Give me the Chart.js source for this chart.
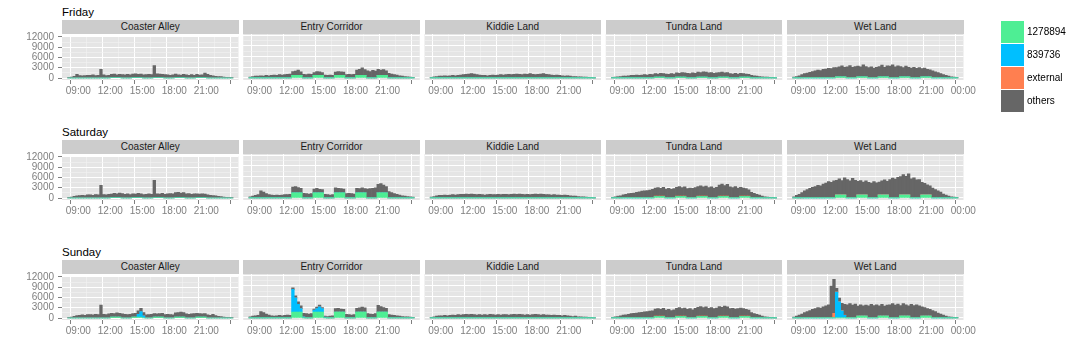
<!DOCTYPE html>
<html><head><meta charset="utf-8">
<script src="https://cdn.jsdelivr.net/npm/chart.js@4.4.1/dist/chart.umd.min.js"></script>
<style>
html,body{margin:0;padding:0;background:#fff;}
body{width:1080px;height:360px;position:relative;overflow:hidden;font-family:"Liberation Sans",Arial,sans-serif;}
.rowtitle{position:absolute;font-size:11.5px;color:#000;line-height:13px;white-space:nowrap;}
.strip{position:absolute;background:#CCCCCC;color:#1A1A1A;font-size:10px;text-align:center;line-height:14px;height:14px;white-space:nowrap;}
canvas.cv{position:absolute;}
.lkey{position:absolute;width:23px;}
.llab{position:absolute;font-size:10px;color:#000;line-height:12px;white-space:nowrap;}
</style></head><body>
<script>
// ---------- categories / labels ----------
const days = ["Friday","Saturday","Sunday"];
const zones = ["Coaster Alley","Entry Corridor","Kiddie Land","Tundra Land","Wet Land"];
const seriesNames = ["1278894","839736","external","others"];
const times = ["08:00","08:15","08:30","08:45","09:00","09:15","09:30","09:45","10:00","10:15","10:30","10:45",
 "11:00","11:15","11:30","11:45","12:00","12:15","12:30","12:45","13:00","13:15","13:30","13:45",
 "14:00","14:15","14:30","14:45","15:00","15:15","15:30","15:45","16:00","16:15","16:30","16:45",
 "17:00","17:15","17:30","17:45","18:00","18:15","18:30","18:45","19:00","19:15","19:30","19:45",
 "20:00","20:15","20:30","20:45","21:00","21:15","21:30","21:45","22:00","22:15","22:30","22:45",
 "23:00","23:15"];
const xMajorHours = [9,12,15,18,21,24];
const xTickLabels = ["09:00","12:00","15:00","18:00","21:00","00:00"];
const xMinorHours = [10.5,13.5,16.5,19.5,22.5];
const yTickValues = [0,3000,6000,9000,12000];
const yMinorValues = [1500,4500,7500,10500];

// ---------- Friday ----------
const fri_coaster_others = [100,300,500,1100, 700,600,700,800, 800,900,700,800, 2500,900,700,800, 900,1000,800,900, 1000,900,1100,900, 1000,1100,900,1000, 900,1000,1100,1000, 3500,1100,1000,900, 1000,900,800,900, 1000,800,700,900, 900,800,1000,800, 900,700,800,1300, 1100,800,600,500, 400,400,300,200, 100,100];
const fri_coaster_green = [0,0,0,0, 0,0,0,0, 0,0,0,0, 0,0,0,0, 150,150,150,150, 0,0,0,0, 150,150,150,150, 0,0,0,0, 150,150,150,150, 0,0,0,0, 150,150,150,150, 0,0,0,0, 150,150,150,150, 0,0,0,0, 0,0,0,0, 0,0];
const fri_entry_others = [200,400,500,500, 600,500,700,600, 700,800,700,900, 800,900,1000,1100, 1100,1200,1500,1000, 1000,900,1100,1000, 800,1100,1000,800, 800,700,800,700, 900,1100,1000,900, 900,1000,900,1000, 1500,1700,2100,1600, 2000,1800,2100,1900, 1700,1500,1600,1300, 1300,1100,900,800, 600,500,400,300, 200,100];
const fri_entry_green = [0,0,0,0, 0,0,0,0, 0,0,0,0, 0,0,0,0, 700,700,700,700, 0,0,0,0, 700,700,700,700, 0,0,0,0, 700,700,700,700, 0,0,0,0, 700,700,700,700, 0,0,0,0, 700,700,700,700, 0,0,0,0, 0,0,0,0, 0,0];
const fri_kiddie_others = [100,300,400,500, 500,600,500,600, 700,600,700,800, 900,1000,1100,1200, 1100,900,800,700, 700,600,700,800, 700,800,900,800, 900,1000,900,1000, 1100,1000,900,1100, 1000,1200,1000,900, 1000,1100,1200,1000, 900,800,700,800, 700,600,500,600, 500,400,400,300, 300,200,200,100, 100,0];
const fri_tundra_others = [100,200,300,400, 500,500,600,700, 700,800,700,800, 900,800,1000,900, 1000,900,1100,1000, 1100,1000,1200,1100, 1200,1100,1300,1200, 1300,1200,1400,1300, 1400,1300,1500,1400, 1400,1500,1300,1400, 1300,1400,1200,1300, 1200,1100,1300,1100, 1100,1000,900,800, 700,600,500,400, 300,200,200,100, 100,0];
const fri_tundra_green = [0,0,0,0, 0,0,0,0, 0,0,0,0, 0,0,0,0, 200,200,200,200, 0,0,0,0, 200,200,200,200, 0,0,0,0, 200,200,200,200, 0,0,0,0, 200,200,200,200, 0,0,0,0, 200,200,200,200, 0,0,0,0, 0,0,0,0, 0,0];
const fri_wet_others = [200,400,600,900, 1100,1300,1500,1700, 1900,2100,2000,2300, 2400,2600,2500,2800, 2500,2700,3000,2600, 3000,3400,2900,3100, 2900,2700,3300,2800, 2800,3000,2700,2900, 2800,3200,2600,3000, 3200,3600,3000,3300, 2800,2500,2900,2600, 2700,2900,2600,2800, 2200,2400,2000,1900, 1900,1600,1400,1100, 900,700,500,300, 200,100];
const fri_wet_green = [0,0,0,0, 0,0,0,0, 0,0,0,0, 0,0,0,0, 300,300,300,300, 0,0,0,0, 300,300,300,300, 0,0,0,0, 300,300,300,300, 0,0,0,0, 300,300,300,300, 0,0,0,0, 300,300,300,300, 0,0,0,0, 0,0,0,0, 0,0];
const fri_wet_external = [0,0,0,0, 80,80,80,80, 80,80,80,80, 80,80,80,80, 80,80,80,80, 80,80,80,80, 80,80,80,80, 80,80,80,80, 80,80,80,80, 80,80,80,80, 80,80,80,80, 80,80,80,80, 80,80,80,80, 80,80,80,80, 0,0,0,0, 0,0];

// ---------- Saturday ----------
const sat_coaster_others = [100,300,500,600, 700,800,700,900, 900,800,1000,900, 3700,1000,900,1100, 1000,1200,1100,1300, 1300,1100,1200,1000, 1100,1000,1200,1100, 1000,1100,1200,1100, 5000,1100,1000,1200, 1100,1200,1300,1200, 1400,1500,1300,1400, 1200,1300,1100,1200, 1100,1000,1100,1000, 900,800,700,600, 500,400,300,200, 100,100];
const sat_coaster_green = [0,0,0,0, 0,0,0,0, 0,0,0,0, 0,0,0,0, 150,150,150,150, 0,0,0,0, 150,150,150,150, 0,0,0,0, 150,150,150,150, 0,0,0,0, 150,150,150,150, 0,0,0,0, 150,150,150,150, 0,0,0,0, 0,0,0,0, 0,0];
const sat_entry_others = [300,500,700,900, 2000,1600,1200,900, 800,700,800,700, 800,900,900,1000, 1600,1800,1500,1300, 1300,1200,1100,1200, 1100,1300,1000,900, 1000,900,800,900, 1400,1300,1200,1100, 1200,1300,1200,1100, 1300,1200,1400,1200, 2500,2600,2700,2800, 2400,2600,2200,1800, 1800,1500,1200,1000, 800,600,500,400, 300,200];
const sat_entry_green = [0,0,0,0, 0,0,0,0, 0,0,0,0, 0,0,0,0, 1400,1400,1400,1400, 0,0,0,0, 1400,1400,1400,1400, 0,0,0,0, 1400,1400,1400,1400, 0,0,0,0, 1400,1400,1400,1400, 0,0,0,0, 1400,1400,1400,1400, 0,0,0,0, 0,0,0,0, 0,0];
const sat_kiddie_others = [200,400,600,700, 700,800,700,800, 900,800,900,1000, 1000,1100,1000,1100, 1000,900,1000,900, 800,900,1000,900, 900,1000,900,1000, 1000,900,1000,1100, 1000,1100,1000,900, 1000,900,1000,1100, 1000,1100,1000,900, 900,800,900,800, 800,700,800,700, 600,500,500,400, 300,300,200,100, 100,0];
const sat_tundra_others = [100,300,500,600, 800,900,1100,1200, 1300,1500,1600,1800, 1900,2000,2100,2300, 2300,2400,2200,2500, 2400,2600,2300,2500, 2500,2700,2400,2600, 2500,2700,2600,2800, 2700,2900,2600,2800, 2800,3000,2700,2900, 3100,3400,3000,3300, 3000,2800,3100,2700, 2500,2300,2100,1800, 1500,1200,900,700, 500,300,200,100, 50,0];
const sat_tundra_green = [0,0,0,0, 0,0,0,0, 0,0,0,0, 0,0,0,0, 400,400,400,400, 0,0,0,0, 400,400,400,400, 0,0,0,0, 400,400,400,400, 0,0,0,0, 400,400,400,400, 0,0,0,0, 400,400,400,400, 0,0,0,0, 0,0,0,0, 0,0];
const sat_tundra_external = [0,0,0,0, 80,80,80,80, 80,80,80,80, 80,80,80,80, 80,80,80,80, 80,80,80,80, 80,80,80,80, 80,80,80,80, 80,80,80,80, 80,80,80,80, 80,80,80,80, 80,80,80,80, 80,80,80,80, 80,80,80,80, 0,0,0,0, 0,0];
const sat_wet_others = [300,700,1000,1500, 1800,2200,2500,2800, 3000,3400,3200,3700, 4000,4400,4200,4600, 4000,4400,3900,4700, 5000,4600,5300,4800, 3700,3900,3500,3800, 4200,4000,4400,4100, 3500,3800,4100,3700, 5000,5400,5100,5600, 5000,5600,5100,5800, 5200,5500,4900,5000, 3400,3100,2700,2400, 2600,2200,1800,1500, 1100,800,500,300, 200,100];
const sat_wet_green = [0,0,0,0, 0,0,0,0, 0,0,0,0, 0,0,0,0, 800,800,800,800, 0,0,0,0, 800,800,800,800, 0,0,0,0, 800,800,800,800, 0,0,0,0, 800,800,800,800, 0,0,0,0, 800,800,800,800, 0,0,0,0, 0,0,0,0, 0,0];
const sat_wet_external = [0,0,0,0, 150,150,150,150, 150,150,150,150, 150,150,150,150, 150,150,150,150, 150,150,150,150, 150,150,150,150, 150,150,150,150, 150,150,150,150, 150,150,150,150, 150,150,150,150, 150,150,150,150, 150,150,150,150, 150,150,150,150, 0,0,0,0, 0,0];

// ---------- Sunday ----------
const sun_coaster_others = [100,300,500,700, 800,900,800,1000, 1000,900,1100,1000, 3800,1100,1000,1200, 1100,1000,1200,1100, 1200,1100,1000,1100, 1000,1100,1000,900, 1000,900,1000,1100, 1000,900,1000,1100, 1000,1100,1000,900, 1200,1300,1400,1300, 1200,1100,1200,1300, 1100,1000,900,1000, 900,800,1100,700, 500,400,300,200, 100,100];
const sun_coaster_green = [0,0,0,0, 0,0,0,0, 0,0,0,0, 0,0,0,0, 300,300,300,300, 0,0,0,0, 300,300,300,300, 0,0,0,0, 300,300,300,300, 0,0,0,0, 300,300,300,300, 0,0,0,0, 300,300,300,300, 0,0,0,0, 0,0,0,0, 0,0];
const sun_coaster_blue = [0,0,0,0, 0,0,0,0, 0,0,0,0, 0,0,0,0, 0,0,0,0, 0,0,0,0, 0,0,800,1600, 600,0,0,0, 0,0,0,0, 0,0,0,0, 0,0,0,0, 0,0,0,0, 0,0,0,0, 0,0,0,0, 0,0,0,0, 0,0];
const sun_entry_others = [300,500,600,700, 1800,1500,1100,800, 600,500,600,700, 600,700,800,700, 400,600,700,800, 1000,1200,1100,1200, 300,400,500,300, 300,400,500,600, 1000,1100,900,800, 1000,900,800,900, 1100,1200,1400,1200, 1200,1100,1000,1200, 1900,1600,1300,1100, 900,800,700,600, 500,400,300,300, 200,100];
const sun_entry_green = [0,0,0,0, 0,0,0,0, 0,0,0,0, 0,0,0,0, 1600,1600,1600,1600, 0,0,0,0, 1600,1600,1600,1600, 0,0,0,0, 1600,1600,1600,1600, 0,0,0,0, 1600,1600,1600,1600, 0,0,0,0, 1600,1600,1600,1600, 0,0,0,0, 0,0,0,0, 0,0];
const sun_entry_blue = [0,0,0,0, 0,0,0,0, 0,0,0,0, 0,0,0,0, 6400,4000,2200,1000, 300,0,0,0, 600,1000,1500,1000, 200,0,0,0, 0,0,0,0, 0,0,0,0, 0,0,0,0, 0,0,0,0, 0,0,0,0, 0,0,0,0, 0,0,0,0, 0,0];
const sun_kiddie_others = [100,300,500,600, 600,700,600,700, 800,700,900,800, 900,1000,900,1000, 900,800,900,800, 900,800,1000,900, 800,900,800,900, 900,800,900,1000, 900,1000,900,800, 900,800,900,1000, 900,800,900,800, 800,700,800,700, 700,600,700,600, 500,400,500,300, 300,200,200,100, 100,0];
const sun_tundra_others = [100,300,400,600, 700,800,900,1100, 1200,1300,1400,1500, 1600,1700,1800,1900, 2000,2100,1900,2200, 2100,2300,2000,2200, 2200,2400,2100,2300, 2300,2500,2200,2600, 2500,2700,2400,2600, 2600,2800,2500,2700, 2700,2500,2800,2600, 2500,2600,2400,2500, 2300,2100,1900,1700, 1400,1100,900,700, 500,300,200,100, 50,0];
const sun_tundra_green = [0,0,0,0, 0,0,0,0, 0,0,0,0, 0,0,0,0, 400,400,400,400, 0,0,0,0, 400,400,400,400, 0,0,0,0, 400,400,400,400, 0,0,0,0, 400,400,400,400, 0,0,0,0, 400,400,400,400, 0,0,0,0, 0,0,0,0, 0,0];
const sun_tundra_external = [0,0,0,0, 80,80,80,80, 80,80,80,80, 80,80,80,80, 80,80,80,80, 80,80,80,80, 80,80,80,80, 80,80,80,80, 80,80,80,80, 80,80,80,80, 80,80,80,80, 80,80,80,80, 80,80,80,80, 80,80,80,80, 0,0,0,0, 0,0];
const sun_wet_others = [200,500,800,1100, 1400,1700,2000,2300, 2500,2800,2700,3000, 3300,3600,8800,9500, 1000,1000,2000,3000, 3600,3900,3500,3800, 2700,3100,2800,3000, 3300,3700,3400,3600, 2800,3200,2700,3000, 3600,3900,3500,3800, 2900,3400,3100,2800, 3700,3400,3600,3300, 2500,2300,2000,1800, 2000,1700,1300,1000, 800,500,300,200, 100,50];
const sun_wet_green = [0,0,0,0, 0,0,0,0, 0,0,0,0, 0,0,0,0, 0,0,0,0, 0,0,0,0, 500,500,500,500, 0,0,0,0, 500,500,500,500, 0,0,0,0, 500,500,500,500, 0,0,0,0, 500,500,500,500, 0,0,0,0, 0,0,0,0, 0,0];
const sun_wet_blue = [0,0,0,0, 0,0,0,0, 0,0,0,0, 0,0,0,0, 7200,4500,2000,700, 0,0,0,0, 0,0,0,0, 0,0,0,0, 0,0,0,0, 0,0,0,0, 0,0,0,0, 0,0,0,0, 0,0,0,0, 0,0,0,0, 0,0,0,0, 0,0];
const sun_wet_external = [0,0,0,0, 80,80,80,80, 80,80,80,80, 80,80,80,1300, 80,80,80,80, 80,80,80,80, 80,80,80,80, 80,80,80,80, 80,80,80,80, 80,80,80,80, 80,80,80,80, 80,80,80,80, 80,80,80,80, 80,80,80,80, 0,0,0,0, 0,0];

// ---------- panel table (built from the arrays) ----------
const panels = [
 [ {green:fri_coaster_green, others:fri_coaster_others},
   {green:fri_entry_green, others:fri_entry_others},
   {others:fri_kiddie_others},
   {green:fri_tundra_green, others:fri_tundra_others},
   {green:fri_wet_green, external:fri_wet_external, others:fri_wet_others} ],
 [ {green:sat_coaster_green, others:sat_coaster_others},
   {green:sat_entry_green, others:sat_entry_others},
   {others:sat_kiddie_others},
   {green:sat_tundra_green, external:sat_tundra_external, others:sat_tundra_others},
   {green:sat_wet_green, external:sat_wet_external, others:sat_wet_others} ],
 [ {green:sun_coaster_green, blue:sun_coaster_blue, others:sun_coaster_others},
   {green:sun_entry_green, blue:sun_entry_blue, others:sun_entry_others},
   {others:sun_kiddie_others},
   {green:sun_tundra_green, external:sun_tundra_external, others:sun_tundra_others},
   {green:sun_wet_green, blue:sun_wet_blue, external:sun_wet_external, others:sun_wet_others} ]
];

// ---------- styling / layout ----------
const COLORS = {green:"#4EEE94", blue:"#00BFFF", external:"#FF7F50", others:"#666666"};
const FONT = "'Liberation Sans', Arial, Helvetica, sans-serif";
Chart.defaults.font.family = FONT;
const X_MIN = 7.47, X_MAX = 24.02;
const Y_MIN = -585, Y_MAX = 12285;
const PANEL_L0 = 62, PANEL_STEP = 181.25, PANEL_W = 176.5;
const PANEL_T0 = 34, ROW_STEP = 120, PANEL_H = 46, STRIP_H = 14;
const PT = 8, PR = 20, XH = 20, PB = 2, PL = 16;

const panelBg = {
  id: 'panelBg',
  beforeDraw(chart) {
    const a = chart.chartArea, c = chart.ctx;
    c.save(); c.fillStyle = '#E5E5E5';
    c.fillRect(a.left, a.top, a.right - a.left, a.bottom - a.top);
    c.restore();
  }
};

function toHour(s){ const p = s.split(':'); return +p[0] + (+p[1])/60; }
const xCenters = times.map(t => toHour(t) + 0.125);

function add(el){ document.body.appendChild(el); return el; }

days.forEach((day, r) => {
  const top = PANEL_T0 + r*ROW_STEP;
  const t = add(document.createElement('div'));
  t.className = 'rowtitle'; t.textContent = day;
  t.style.left = PANEL_L0 + 'px'; t.style.top = (top - STRIP_H - 14) + 'px';

  zones.forEach((zone, c) => {
    const left = PANEL_L0 + c*PANEL_STEP;
    const s = add(document.createElement('div'));
    s.className = 'strip'; s.textContent = zone;
    s.style.left = left + 'px'; s.style.top = (top - STRIP_H) + 'px'; s.style.width = PANEL_W + 'px';

    const p = panels[r][c];
    const cvLeft = c === 0 ? 0 : Math.floor(left) - PL;
    const padLeft = c === 0 ? 0 : left - cvLeft;
    const yW = c === 0 ? left : 0;
    const cvTop = top - PT;
    const w = Math.ceil(left + PANEL_W + PR - cvLeft);
    const h = PT + PANEL_H + XH + PB;
    const cv = add(document.createElement('canvas'));
    cv.className = 'cv'; cv.width = w; cv.height = h;
    cv.style.left = cvLeft + 'px'; cv.style.top = cvTop + 'px';
    cv.style.width = w + 'px'; cv.style.height = h + 'px';

    const keys = ['green','blue','external','others'];
    const datasets = keys.map((k, i) => ({
      label: seriesNames[i],
      data: xCenters.map((x, j) => ({x: x, y: p[k] ? p[k][j] : 0})),
      backgroundColor: COLORS[k],
      borderWidth: 0,
      barPercentage: 1, categoryPercentage: 1
    }));

    const isMajX = v => xMajorHours.includes(v);
    const isMajY = v => yTickValues.includes(v);
    new Chart(cv, {
      type: 'bar',
      data: {datasets},
      plugins: [panelBg],
      options: {
        responsive: false, animation: false, events: [],
        layout: {padding: {left: padLeft, right: w - (left - cvLeft) - PANEL_W, top: PT, bottom: PB}},
        plugins: {legend: {display: false}, tooltip: {enabled: false}},
        scales: {
          x: {
            type: 'linear', stacked: true, min: X_MIN, max: X_MAX, offset: false,
            afterBuildTicks(sc){ sc.ticks = xMajorHours.concat(xMinorHours).sort((a,b)=>a-b).map(v => ({value: v})); },
            afterFit(sc){ sc.height = XH; },
            border: {display: false},
            grid: {
              color: ctx => isMajX(ctx.tick && ctx.tick.value) ? '#FFFFFF' : '#F2F2F2',
              lineWidth: ctx => isMajX(ctx.tick && ctx.tick.value) ? 1 : 0.6,
              drawTicks: true, tickLength: 4, tickWidth: 1,
              tickColor: ctx => isMajX(ctx.tick && ctx.tick.value) ? '#7F7F7F' : 'rgba(0,0,0,0)'
            },
            ticks: {
              autoSkip: false, maxRotation: 0, minRotation: 0, padding: 1,
              color: '#7F7F7F', font: {family: FONT, size: 10},
              callback: v => {
                const i = xMajorHours.indexOf(v);
                if (i < 0) return '';
                if (v === 24 && c !== zones.length - 1) return '';
                return xTickLabels[i];
              }
            }
          },
          y: {
            type: 'linear', stacked: true, min: Y_MIN, max: Y_MAX,
            afterBuildTicks(sc){ sc.ticks = yTickValues.concat(yMinorValues).sort((a,b)=>a-b).map(v => ({value: v})); },
            afterFit(sc){ sc.width = yW; },
            border: {display: false},
            grid: {
              color: ctx => isMajY(ctx.tick && ctx.tick.value) ? '#FFFFFF' : '#F2F2F2',
              lineWidth: ctx => isMajY(ctx.tick && ctx.tick.value) ? 1 : 0.6,
              drawTicks: c === 0, tickLength: 4, tickWidth: 1,
              tickColor: ctx => isMajY(ctx.tick && ctx.tick.value) ? '#7F7F7F' : 'rgba(0,0,0,0)'
            },
            ticks: {
              display: c === 0, padding: 4, autoSkip: false,
              color: '#7F7F7F', font: {family: FONT, size: 10},
              callback: v => yTickValues.includes(v) ? String(v) : ''
            }
          }
        }
      }
    });
  });
});

// ---------- legend ----------
const legendKeys = ['green','blue','external','others'];
legendKeys.forEach((k, i) => {
  const top = 21 + i*23;
  const box = add(document.createElement('div'));
  box.className = 'lkey'; box.style.left = '1001px'; box.style.top = top + 'px';
  box.style.height = '22px'; box.style.background = COLORS[k];
  const lab = add(document.createElement('div'));
  lab.className = 'llab'; lab.textContent = seriesNames[i];
  lab.style.left = '1027px'; lab.style.top = (top + 5) + 'px';
});
</script>
</body></html>
